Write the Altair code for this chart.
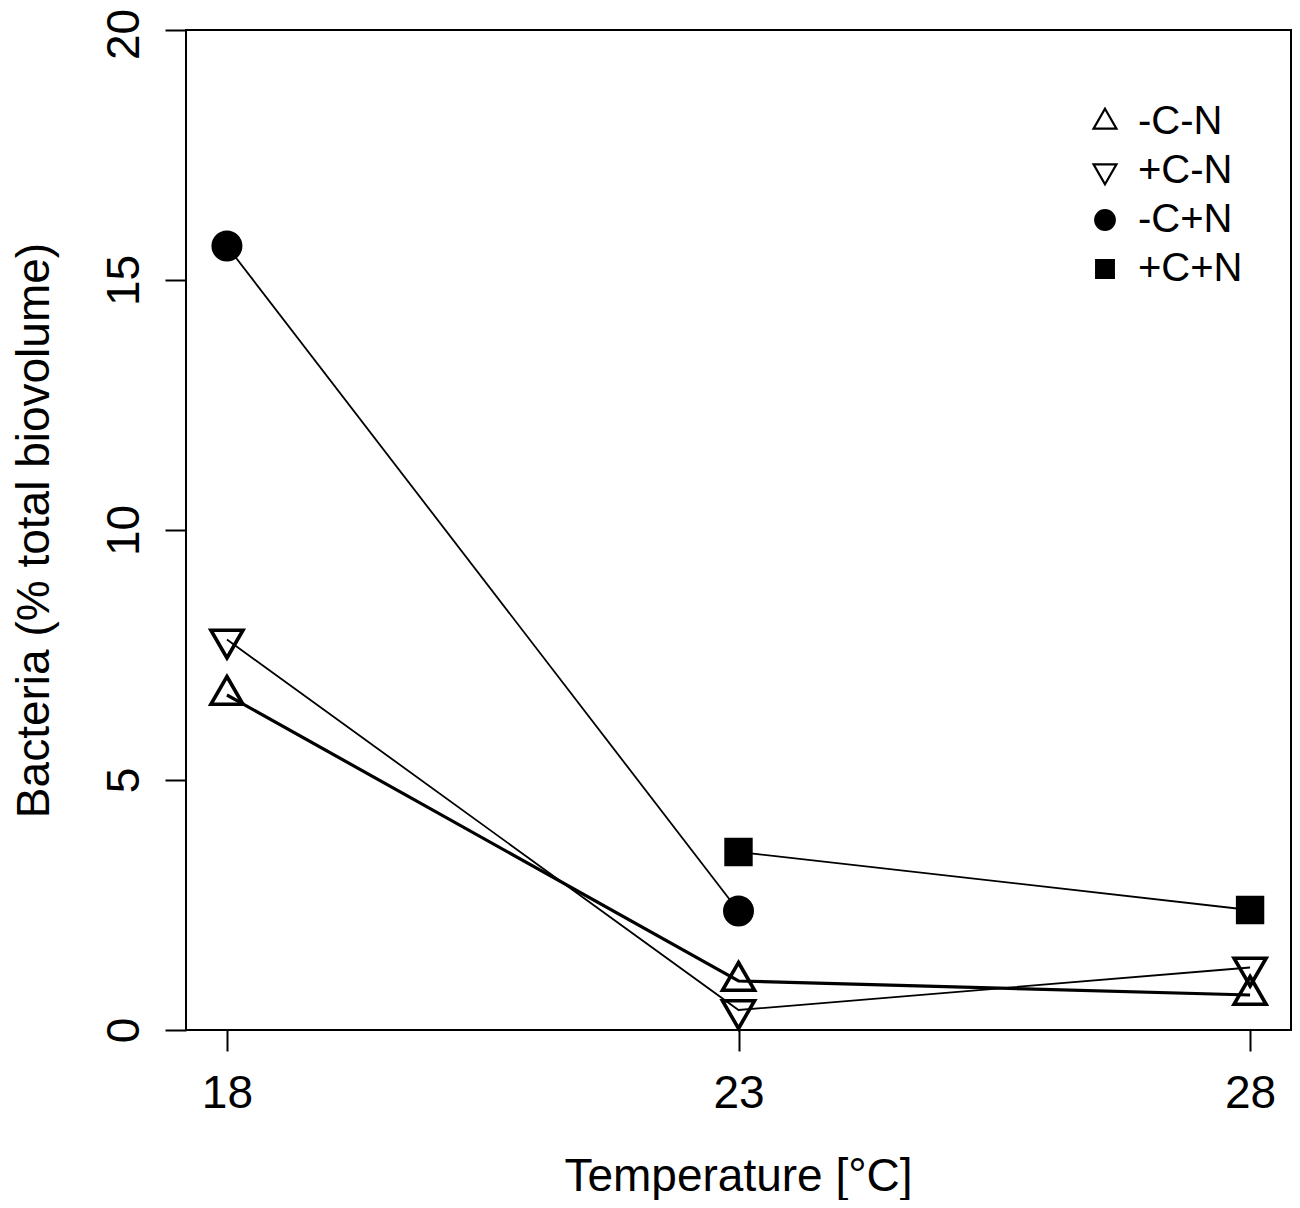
import altair as alt
import pandas as pd

temps = [18, 23, 28]
series_names = ["-C-N", "+C-N", "-C+N", "+C+N"]
vals_mCmN = [6.70, 0.98, 0.70]
vals_pCmN = [7.81, 0.40, 1.25]
vals_mCpN = [15.68, 2.38, None]
vals_pCpN = [None, 3.56, 2.40]
y_ticks = [0, 5, 10, 15, 20]

rows = []
for name, vals in zip(series_names, [vals_mCmN, vals_pCmN, vals_mCpN, vals_pCpN]):
    for t, v in zip(temps, vals):
        if v is not None:
            rows.append({"temp": t, "value": v, "series": name})
df = pd.DataFrame(rows)

FONT = "Liberation Sans"
tri_up = "M0,-1L0.866,0.5L-0.866,0.5Z"
tri_down = "M0,1L0.866,-0.5L-0.866,-0.5Z"
circ = "M0.74,0A0.74,0.74 0 1,1 -0.74,0A0.74,0.74 0 1,1 0.74,0Z"
sq = "M-0.67,-0.67L0.67,-0.67L0.67,0.67L-0.67,0.67Z"

x = alt.X(
    "temp:Q",
    scale=alt.Scale(domain=[17.6, 28.4], nice=False, zero=False),
    axis=alt.Axis(
        values=temps, title="Temperature [°C]", format="d",
        labelBaseline="top", labelPadding=20,
        titleX=552, titleY=160, titleBaseline="alphabetic", titleAlign="center",
    ),
)
y = alt.Y(
    "value:Q",
    scale=alt.Scale(domain=[0, 20], nice=False, zero=True),
    axis=alt.Axis(
        values=y_ticks, title="Bacteria (% total biovolume)",
        labelAngle=270, labelAlign="center", labelBaseline="alphabetic",
        labelPadding=27,
        labelOffset={"condition": {"test": "datum.value == 20", "value": 4}, "value": 0},
        titleAngle=270, titleX=-152, titleY=500, titleAlign="center",
        titleBaseline="middle",
    ),
)

legend_spec = dict(
    title=None, orient="none", legendX=899, legendY=72,
    symbolStrokeWidth=2.2,
)

base = alt.Chart(df)
line_thick = base.transform_filter(alt.datum.series == "-C-N").mark_line(
    color="black", strokeWidth=3.2
).encode(x=x, y=y, detail="series:N")
line_thin = base.transform_filter(alt.datum.series != "-C-N").mark_line(
    color="black", strokeWidth=1.8
).encode(x=x, y=y, detail="series:N")

points = base.mark_point(
    filled=True, opacity=1, strokeWidth=3.6, size=1369
).encode(
    x=x, y=y,
    shape=alt.Shape(
        "series:N",
        scale=alt.Scale(domain=series_names, range=[tri_up, tri_down, circ, sq]),
        legend=alt.Legend(**legend_spec),
    ),
    fill=alt.Fill(
        "series:N",
        scale=alt.Scale(domain=series_names,
                        range=["transparent", "transparent", "black", "black"]),
        legend=alt.Legend(**legend_spec),
    ),
    stroke=alt.Stroke(
        "series:N",
        scale=alt.Scale(domain=series_names,
                        range=["black", "black", "black", "black"]),
        legend=alt.Legend(**legend_spec),
    ),
)

chart = alt.layer(line_thick, line_thin, points).properties(
    width=1105, height=1000,
    background="white",
    view=alt.ViewBackground(stroke="black", strokeWidth=2, fill="white"),
    autosize=alt.AutoSizeParams(type="none"),
    padding={"left": 178, "top": 22, "right": 1, "bottom": 170},
).configure_axis(
    domain=False, grid=False, ticks=True, tickColor="black", tickWidth=2,
    tickSize=21, labelFont=FONT, labelFontSize=46, labelColor="black",
    titleFont=FONT, titleFontSize=46, titleFontWeight="normal", titleColor="black",
    labelOverlap=False, labelFlush=False,
).configure_legend(
    labelFont=FONT, labelFontSize=40, labelColor="black",
    symbolSize=700, labelOffset=13, rowPadding=9, padding=0,
    symbolStrokeWidth=2.2,
)

chart.save("out.html", embed_options={"renderer": "svg", "actions": False})
